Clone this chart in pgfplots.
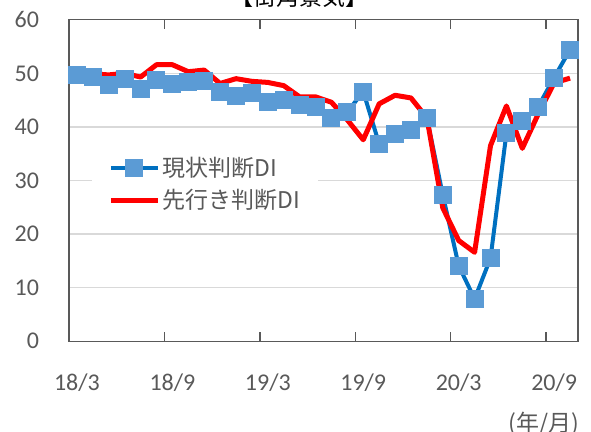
\documentclass[border=0pt]{standalone}
\usepackage{pgfplots}
\pgfplotsset{compat=1.18}
\usepackage{fontspec}
\setmainfont{Carlito}
\newfontfamily\jp{Noto Sans CJK JP}
\definecolor{lineblue}{HTML}{0070C0}
\definecolor{markblue}{HTML}{5B9BD5}
\definecolor{linered}{HTML}{FF0000}
\definecolor{gridgray}{HTML}{D9D9D9}
\definecolor{axisgray}{HTML}{595959}
\definecolor{labelgray}{HTML}{595959}
\begin{document}
\begin{tikzpicture}
\useasboundingbox (-34.5pt,-45.35pt) rectangle (261pt,170.65pt);
\begin{axis}[
  at={(0pt,0pt)}, anchor=south west,
  scale only axis, width=254.5pt, height=160.8pt,
  xmin=-0.5, xmax=31.5, ymin=0, ymax=60,
  /pgf/number format/assume math mode=true,
  ytick={0,10,20,30,40,50,60},
  xtick={0,6,12,18,24,30},
  xticklabels={\mbox{18/3},\mbox{18/9},\mbox{19/3},\mbox{19/9},\mbox{20/3},\mbox{20/9}},
  major tick length=0pt,
  extra x ticks={5.5,11.5,17.5,23.5,29.5},
  extra x tick labels={},
  extra x tick style={major tick length=4.5pt, tick style={draw=axisgray, line width=0.75pt}, grid=none},
  ymajorgrids, grid style={draw=gridgray, line width=0.75pt},
  axis line style={draw=axisgray, line width=0.75pt},
  tick label style={font=\fontsize{12}{14}\selectfont, text=labelgray},
  yticklabel style={xshift=-11.5pt},
  xticklabel style={yshift=-12.5pt},
  clip=false,
  legend cell align=left,
  legend style={at={(0.045,0.601)}, anchor=north west, draw=none, fill=white,
    font=\jp\fontsize{11.5}{13}\selectfont, text=labelgray,
    inner xsep=8pt, inner ysep=3pt, row sep=2pt,
    nodes={inner sep=1pt, text height=10pt, text depth=2pt}},
  legend image code/.code={\draw[mark repeat=2,mark phase=2] plot coordinates {(0pt,0pt)(11.75pt,0pt)(23.5pt,0pt)};},
]
\addplot[lineblue, line width=2pt, line join=round, mark=square*, mark size=4.25pt,
  mark options={fill=markblue, draw=markblue, line width=0pt, solid}] coordinates {
(0,49.7)(1,49.3)(2,47.8)(3,48.9)(4,47.1)(5,48.7)(6,48.0)(7,48.4)(8,48.6)(9,46.5)
(10,45.7)(11,46.4)(12,44.7)(13,45.1)(14,44.1)(15,43.8)(16,41.6)(17,42.8)(18,46.6)(19,36.8)
(20,38.6)(21,39.4)(22,41.7)(23,27.3)(24,14.1)(25,7.9)(26,15.5)(27,38.8)(28,41.1)(29,43.8)
(30,49.2)(31,54.4)};
\addlegendentry{現状判断DI}
\addplot[linered, line width=2.5pt, line join=round, no markers] coordinates {
(0,50.0)(1,49.9)(2,49.7)(3,50.0)(4,49.3)(5,51.6)(6,51.6)(7,50.3)(8,50.6)(9,48.1)
(10,49.0)(11,48.5)(12,48.3)(13,47.7)(14,45.6)(15,45.6)(16,44.6)(17,41.3)(18,37.6)(19,44.3)
(20,45.9)(21,45.4)(22,41.7)(23,24.9)(24,18.8)(25,16.6)(26,36.5)(27,43.9)(28,36.0)(29,42.4)
(30,48.2)(31,49.1)};
\addlegendentry{先行き判断DI}
\end{axis}
\node[anchor=base, font=\jp\fontsize{11.5}{13}\selectfont] at (115.5pt,168.05pt) {【街角景気】};
\node[anchor=east, font=\jp\fontsize{11.5}{13}\selectfont, text=labelgray] at (258.5pt,-41.3pt) {(年/月)};
\end{tikzpicture}
\end{document}
